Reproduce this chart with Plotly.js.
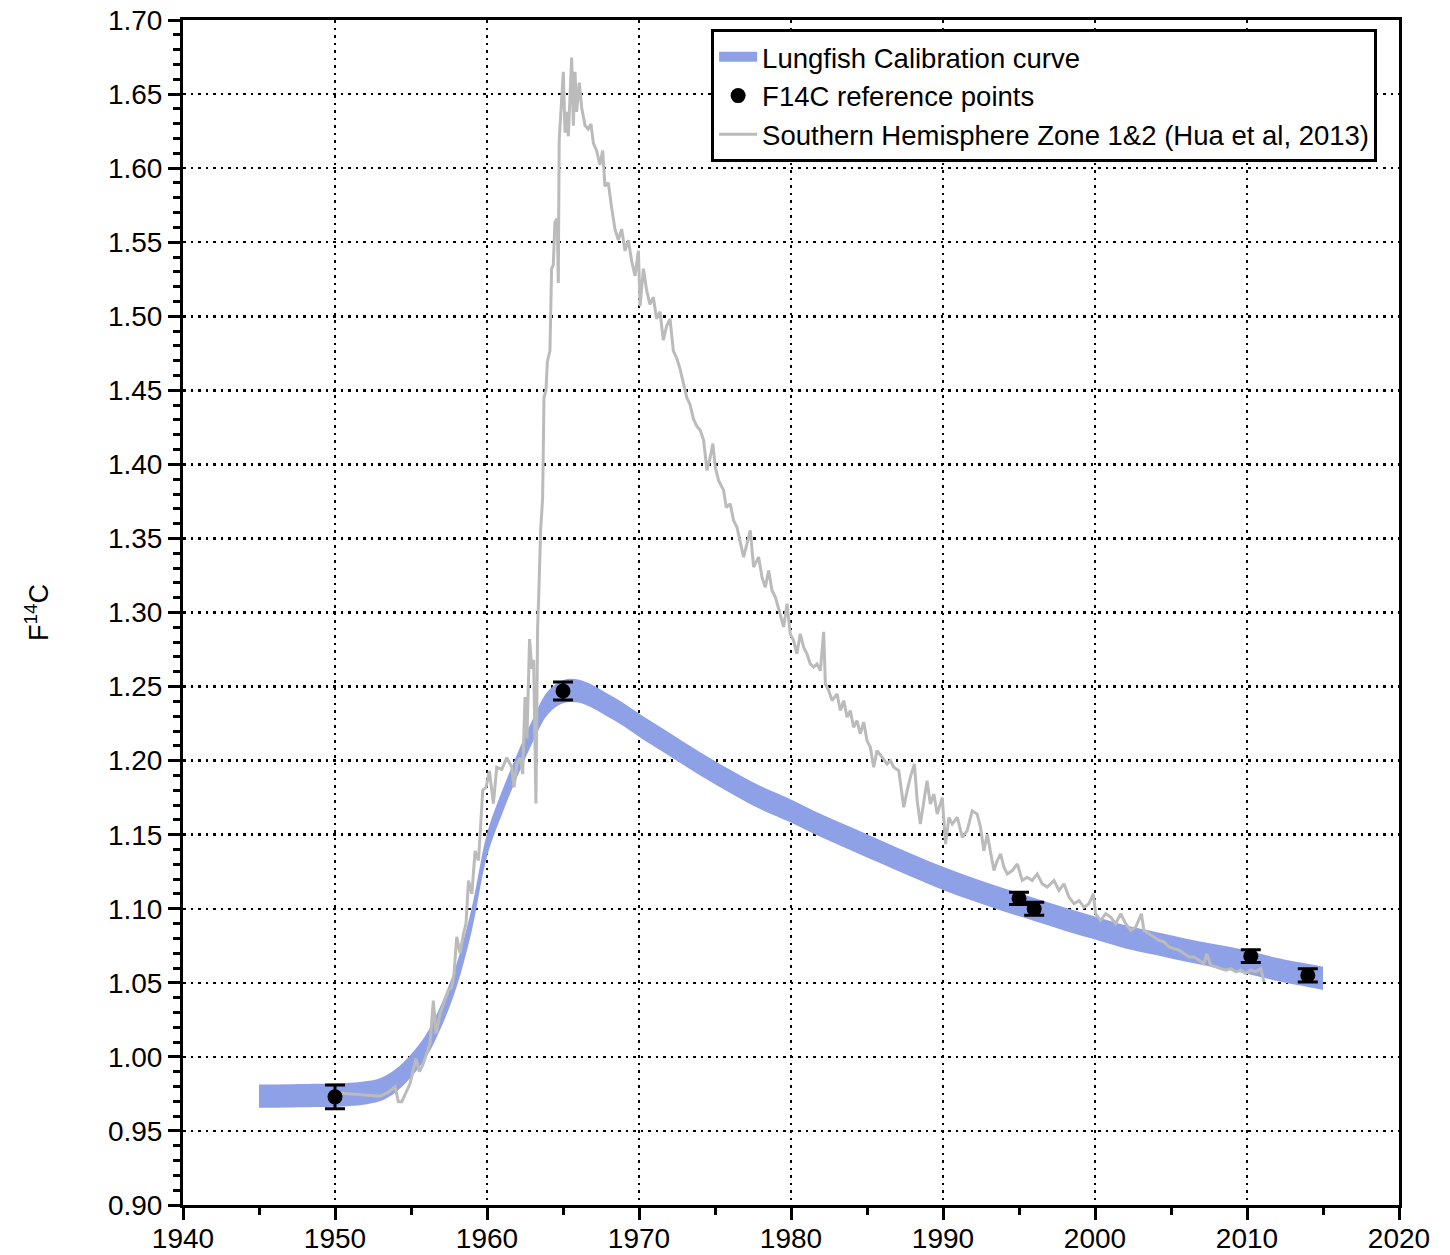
<!DOCTYPE html>
<html>
<head>
<meta charset="utf-8">
<script src="https://cdn.plot.ly/plotly-3.0.1.min.js"></script>
<style>html,body{margin:0;padding:0;background:#fff;}#chart{width:1450px;height:1255px;}</style>
</head>
<body>
<div id="chart"></div>
<script>
// Lungfish calibration band (lower / upper edges)
const calYears = [1945,1947,1949,1950,1951,1952,1953,1954,1955,1956,1957,1958,1959,1960,1961,1962,1963,1964,1965,1966,1967,1968,1969,1970,1972,1974,1976,1978,1980,1982,1984,1986,1988,1990,1992,1994,1996,1998,2000,2002,2004,2006,2008,2010,2012,2014,2015];
const calLower = [0.9657,0.9659,0.9662,0.9664,0.9669,0.9679,0.9702,0.9762,0.9862,0.9997,1.0202,1.0472,1.0852,1.1352,1.1642,1.1892,1.2122,1.2312,1.2387,1.2392,1.2352,1.2292,1.2232,1.2162,1.2032,1.1902,1.1782,1.1672,1.1582,1.1482,1.1392,1.1302,1.1212,1.1127,1.1052,1.0982,1.0917,1.0852,1.0792,1.0732,1.0687,1.0642,1.0602,1.0562,1.0512,1.0472,1.0452];
const calUpper = [0.9813,0.9815,0.9818,0.9820,0.9825,0.9835,0.9858,0.9918,1.0018,1.0153,1.0358,1.0628,1.1008,1.1508,1.1798,1.2048,1.2278,1.2468,1.2543,1.2548,1.2508,1.2448,1.2388,1.2318,1.2188,1.2058,1.1938,1.1828,1.1738,1.1638,1.1548,1.1458,1.1368,1.1283,1.1208,1.1138,1.1073,1.1008,1.0948,1.0888,1.0843,1.0798,1.0758,1.0718,1.0668,1.0628,1.0608];

// F14C reference points
const refYears = [1950, 1965, 1995, 1996, 2010.25, 2014];
const refF14C  = [0.973, 1.247, 1.107, 1.100, 1.068, 1.055];
const refErr   = [0.008, 0.006, 0.0042, 0.0044, 0.0043, 0.0045];

// Southern Hemisphere Zone 1&2 (Hua et al, 2013)
const shYears = [1950.0,1950.55,1951.5,1952.96,1953.5,1953.95,1954.17,1954.39,1954.94,1955.33,1955.55,1955.77,1956.03,1956.25,1956.47,1956.65,1956.91,1957.24,1957.46,1957.68,1957.83,1958.01,1958.23,1958.45,1958.62,1958.78,1959.0,1959.22,1959.44,1959.55,1959.72,1959.94,1960.16,1960.42,1960.64,1960.97,1961.3,1961.63,1961.78,1961.96,1962.18,1962.35,1962.5,1962.63,1962.8,1962.95,1963.07,1963.22,1963.33,1963.4,1963.53,1963.66,1963.75,1963.88,1963.97,1964.14,1964.25,1964.36,1964.47,1964.62,1964.69,1964.75,1964.91,1965.02,1965.13,1965.24,1965.35,1965.46,1965.57,1965.68,1965.79,1965.9,1966.07,1966.23,1966.45,1966.66,1966.84,1967.0,1967.21,1967.43,1967.61,1967.76,1967.98,1968.2,1968.42,1968.64,1968.86,1969.08,1969.3,1969.52,1969.74,1969.96,1970.07,1970.29,1970.5,1970.72,1970.94,1971.16,1971.38,1971.6,1971.82,1972.04,1972.26,1972.48,1972.7,1972.92,1973.14,1973.36,1973.58,1973.8,1974.03,1974.25,1974.47,1974.69,1974.86,1975.02,1975.24,1975.57,1975.74,1976.0,1976.22,1976.44,1976.66,1976.88,1977.1,1977.32,1977.54,1977.87,1978.09,1978.31,1978.53,1978.75,1978.97,1979.3,1979.52,1979.74,1979.95,1980.17,1980.39,1980.61,1980.83,1981.05,1981.27,1981.49,1981.71,1981.93,1982.15,1982.26,1982.48,1982.7,1983.03,1983.25,1983.47,1983.69,1983.9,1984.12,1984.34,1984.56,1984.78,1985.0,1985.22,1985.44,1985.66,1985.99,1986.32,1986.54,1986.76,1987.09,1987.42,1987.64,1987.85,1988.12,1988.3,1988.51,1988.73,1988.95,1989.17,1989.4,1989.62,1989.95,1990.17,1990.39,1990.61,1990.94,1991.27,1991.59,1991.92,1992.25,1992.47,1992.69,1992.91,1993.13,1993.35,1993.57,1993.79,1994.01,1994.23,1994.56,1994.89,1995.21,1995.54,1995.87,1996.2,1996.53,1996.86,1997.3,1997.63,1997.96,1998.29,1998.62,1998.95,1999.27,1999.6,1999.89,2000.04,2000.37,2000.7,2001.03,2001.36,2001.69,2002.02,2002.35,2002.68,2003.05,2003.22,2003.55,2003.88,2004.21,2004.54,2004.87,2005.2,2005.53,2005.86,2006.19,2006.52,2006.85,2007.17,2007.35,2007.61,2007.94,2008.27,2008.6,2008.93,2009.26,2009.59,2009.92,2010.25,2010.58,2010.91,2011.12];
const shF14C = [0.9758,0.9753,0.9748,0.9735,0.976,0.9798,0.9697,0.9697,0.982,0.9989,0.990,0.9944,1.0022,1.009,1.038,1.0157,1.029,1.038,1.045,1.047,1.056,1.081,1.070,1.083,1.090,1.119,1.110,1.139,1.1326,1.1506,1.180,1.182,1.193,1.171,1.1955,1.194,1.202,1.1955,1.182,1.1977,1.202,1.191,1.243,1.215,1.282,1.262,1.268,1.171,1.29,1.31,1.3558,1.3775,1.4452,1.45,1.4693,1.4766,1.5321,1.5345,1.5635,1.5659,1.5225,1.619,1.6432,1.665,1.6239,1.638,1.6215,1.6505,1.6746,1.6287,1.665,1.638,1.6577,1.6408,1.6287,1.6263,1.6299,1.6167,1.6118,1.6022,1.6118,1.5877,1.5901,1.5732,1.5587,1.5514,1.5587,1.5442,1.5514,1.537,1.5273,1.5442,1.5068,1.5321,1.5176,1.508,1.5128,1.4983,1.5031,1.4838,1.4935,1.4983,1.4766,1.4717,1.4645,1.4548,1.4452,1.4403,1.4307,1.4258,1.423,1.4162,1.396,1.405,1.414,1.398,1.389,1.3824,1.371,1.3734,1.3622,1.3577,1.3464,1.3374,1.3464,1.3554,1.3306,1.3374,1.3239,1.3171,1.3284,1.3149,1.3104,1.2991,1.2901,1.3059,1.2856,1.2811,1.2721,1.2856,1.2766,1.2721,1.2653,1.2631,1.2653,1.2608,1.287,1.2518,1.2473,1.2405,1.245,1.2338,1.2405,1.2293,1.2338,1.2225,1.227,1.218,1.226,1.2135,1.209,1.1955,1.2068,1.2023,1.1977,1.2,1.1955,1.1932,1.1685,1.1797,1.1887,1.1977,1.173,1.1572,1.173,1.1865,1.1707,1.1774,1.1639,1.175,1.1437,1.1617,1.1572,1.1617,1.1482,1.1527,1.1661,1.1639,1.1549,1.1392,1.1504,1.1392,1.1258,1.1325,1.137,1.128,1.1235,1.1258,1.1303,1.1191,1.1213,1.1191,1.1235,1.1168,1.1146,1.1191,1.1123,1.1168,1.1078,1.1034,1.1056,1.1011,1.1034,1.1101,1.0966,1.0922,1.0966,1.0944,1.0899,1.0966,1.0899,1.0854,1.0877,1.0966,1.0854,1.0832,1.0809,1.0787,1.0776,1.0742,1.0731,1.072,1.0697,1.0675,1.0675,1.0652,1.063,1.0697,1.0619,1.0608,1.0596,1.0585,1.0596,1.0574,1.0585,1.0563,1.0585,1.0574,1.0596,1.0507];

// Axis ticks
const xTicks = [1940,1950,1960,1970,1980,1990,2000,2010,2020];
const yTicks = [0.90,0.95,1.00,1.05,1.10,1.15,1.20,1.25,1.30,1.35,1.40,1.45,1.50,1.55,1.60,1.65,1.70];
const yTickText = ['0.90','0.95','1.00','1.05','1.10','1.15','1.20','1.25','1.30','1.35','1.40','1.45','1.50','1.55','1.60','1.65','1.70'];

const FONT = '"Liberation Sans", Arial, Helvetica, sans-serif';
const BAND = 'rgb(143,161,230)';

const traces = [
  {x: calYears, y: calLower, type: 'scatter', mode: 'lines', line: {width: 0, shape: 'spline', color: BAND},
   showlegend: false, hoverinfo: 'skip'},
  {x: calYears, y: calUpper, type: 'scatter', mode: 'lines', line: {width: 0, shape: 'spline', color: BAND},
   fill: 'tonexty', fillcolor: BAND, showlegend: false, hoverinfo: 'skip'},
  // legend entry for the band (no data drawn)
  {x: [null], y: [null], type: 'scatter', mode: 'lines', line: {width: 12, color: BAND},
   name: 'Lungfish Calibration curve', legendrank: 1},
  {x: shYears, y: shF14C, type: 'scatter', mode: 'lines', line: {width: 3, color: 'rgb(187,187,187)'},
   name: 'Southern Hemisphere Zone 1&amp;2 (Hua et al, 2013)', legendrank: 3},
  {x: refYears, y: refF14C, type: 'scatter', mode: 'markers', marker: {size: 15, color: 'black'},
   error_y: {type: 'data', array: refErr, visible: true, color: 'black', thickness: 3, width: 10},
   name: 'F14C reference points', legendrank: 2}
];

const layout = {
  width: 1450, height: 1255,
  margin: {l: 183, r: 51, t: 20, b: 50},
  paper_bgcolor: 'white', plot_bgcolor: 'white',
  font: {family: FONT, size: 28, color: 'black'},
  showlegend: true,
  legend: {x: 0.982, xanchor: 'right', y: 0.992, yanchor: 'top', bgcolor: 'white',
           bordercolor: 'black', borderwidth: 3, font: {family: FONT, size: 27.5, color: 'black'},
           traceorder: 'normal', tracegroupgap: 0, itemwidth: 38},
  xaxis: {range: [1940, 2020], tickvals: xTicks, ticktext: xTicks.map(String),
          showline: true, linecolor: 'black', linewidth: 3, mirror: true,
          ticks: 'outside', ticklen: 12, tickwidth: 3, tickcolor: 'black', ticklabelstandoff: -6,
          showgrid: true, gridcolor: 'black', gridwidth: 2.5, griddash: '2.5px,5px',
          zeroline: false, tickfont: {family: FONT, size: 28, color: 'black'},
          minor: {dtick: 5, ticks: 'outside', ticklen: 7, tickwidth: 3, tickcolor: 'black', showgrid: false}},
  yaxis: {range: [0.90, 1.70], tickvals: yTicks, ticktext: yTickText,
          showline: true, linecolor: 'black', linewidth: 3, mirror: true,
          ticks: 'outside', ticklen: 12, tickwidth: 3, tickcolor: 'black',
          showgrid: true, gridcolor: 'black', gridwidth: 2.5, griddash: '2.5px,5px',
          zeroline: false, tickfont: {family: FONT, size: 28, color: 'black'},
          minor: {dtick: 0.01, tick0: 0.90, ticks: 'outside', ticklen: 7, tickwidth: 3, tickcolor: 'black', showgrid: false},
          title: {text: 'F<sup>14</sup>C', font: {family: FONT, size: 27, color: 'black'}, standoff: 52}}
};

Plotly.newPlot('chart', traces, layout, {displayModeBar: false, staticPlot: true});
</script>
</body>
</html>
